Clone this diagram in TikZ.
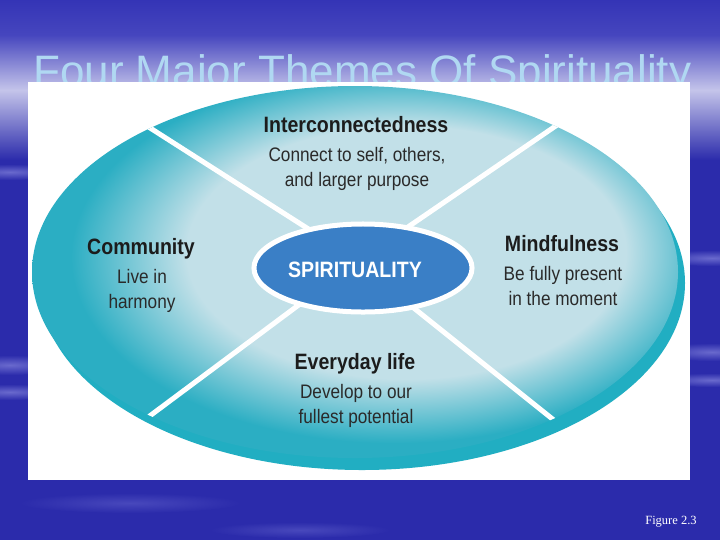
\documentclass[tikz,border=0pt]{standalone}
\usepackage{fontspec}
\setmainfont{Liberation Sans}
\newfontfamily\narrowfont[FakeStretch=0.88]{Liberation Sans}
\newfontfamily\serifnote{Liberation Serif}
\usetikzlibrary{shapes.geometric}

\definecolor{slideblue}{RGB}{43,43,171}
\definecolor{slidetop}{RGB}{52,52,182}
\definecolor{slidemid}{RGB}{70,70,190}
\definecolor{slidelight}{RGB}{196,196,234}
\definecolor{streak}{RGB}{105,105,205}
\definecolor{streakfaint}{RGB}{72,72,188}
\definecolor{titleblue}{RGB}{176,216,242}
\definecolor{facepale}{RGB}{194,224,232}
\definecolor{faceteal}{RGB}{43,174,195}
\definecolor{rimteal}{RGB}{33,174,194}
\definecolor{hubblue}{RGB}{58,127,198}
\definecolor{inkhead}{RGB}{28,28,28}
\definecolor{inkbody}{RGB}{42,42,42}

\pgfdeclareradialshading{discface}{\pgfpoint{6bp}{4bp}}{color(0bp)=(facepale); color(17bp)=(facepale); color(25bp)=(faceteal); color(50bp)=(faceteal)}

\newcommand{\headsize}{\narrowfont\bfseries\fontsize{15.8}{18}\selectfont}
\newcommand{\bodysize}{\narrowfont\fontsize{13.9}{17.1}\selectfont}

\tikzset{
  head/.style = {anchor = base, inner sep = 0pt, text = inkhead, font = \headsize},
  body/.style = {anchor = base, inner sep = 0pt, text = inkbody, font = \bodysize, align = center},
  divider/.style = {draw = white, line width = 0.125cm},
  hub/.style = {ellipse, fill = hubblue, draw = white, line width = 0.125cm,
    minimum width = 5.45cm, minimum height = 2.2cm, inner sep = 0pt},
  streakblob/.style = {inner color = streak, outer color = slideblue},
  faintblob/.style = {inner color = streakfaint, outer color = slideblue}
}

\begin{document}
\begin{tikzpicture}[x = 0.025cm, y = -0.025cm]
	\useasboundingbox (0,0) rectangle (720,540);
	% slide background
	\fill[slideblue] (0,0) rectangle (720,540);
	\shade[top color = slidetop, bottom color = slidemid] (0,0) rectangle (720,35);
	\shade[top color = slidemid, bottom color = slidelight] (0,35) rectangle (720,90);
	\shade[top color = slidelight, bottom color = slideblue] (0,90) rectangle (720,160);
	\shade[streakblob] (10,172) ellipse [x radius = 60, y radius = 8];
	\shade[streakblob] (10,365) ellipse [x radius = 60, y radius = 10];
	\shade[streakblob] (10,392) ellipse [x radius = 60, y radius = 8];
	\shade[streakblob] (712,258) ellipse [x radius = 60, y radius = 8];
	\shade[streakblob] (712,352) ellipse [x radius = 60, y radius = 9];
	\shade[streakblob] (712,380) ellipse [x radius = 60, y radius = 7];
	\shade[faintblob] (130,503) ellipse [x radius = 110, y radius = 10];
	\shade[faintblob] (300,530) ellipse [x radius = 90, y radius = 8];
	\node[anchor = base west, inner sep = 0pt, text = titleblue,
		font = \fontsize{31.3}{34}\selectfont] (title) at (33,86) {Four Major Themes Of Spirituality};
	\node[anchor = base west, inner sep = 0pt, text = white,
		font = \serifnote\fontsize{8.9}{10}\selectfont] (fig) at (645,524) {Figure 2.3};

	% the figure
	\fill[white] (28,82) rectangle (690,480);
	\fill[rimteal] (362,283) ellipse [x radius = 323, y radius = 187];
	\shade[shading = discface] (355,272) ellipse [x radius = 323, y radius = 186];

	\coordinate (tlIn) at (310,230);
	\coordinate (tlOut) at (100,96);
	\coordinate (trIn) at (405,229);
	\coordinate (trOut) at (620,82);
	\coordinate (blIn) at (300,304);
	\coordinate (blOut) at (100,453);
	\coordinate (brIn) at (410,305);
	\coordinate (brOut) at (620,473);
	\begin{scope}
		\clip (355,272) ellipse [x radius = 323, y radius = 186];
		\draw[divider] (tlIn) -- (tlOut);
		\draw[divider] (trIn) -- (trOut);
		\draw[divider] (blIn) -- (blOut);
		\draw[divider] (brIn) -- (brOut);
	\end{scope}

	\node[hub] (spirit) at (363,268) {};
	\node[head, text = white] (spiritTxt) at (355,277) {SPIRITUALITY};

	% base of a two-line node is its last line
	\node[head] (inter) at (356,132) {Interconnectedness};
	\node[body] (interTxt) at (357,186) {Connect to self, others,\\and larger purpose};
	\node[head] (comm) at (141,254) {Community};
	\node[body] (commTxt) at (142,308) {Live in\\harmony};
	\node[head] (mind) at (562,251) {Mindfulness};
	\node[body] (mindTxt) at (563,305) {Be fully present\\in the moment};
	\node[head] (every) at (355,369) {Everyday life};
	\node[body] (everyTxt) at (356,423) {Develop to our\\fullest potential};
\end{tikzpicture}
\end{document}
